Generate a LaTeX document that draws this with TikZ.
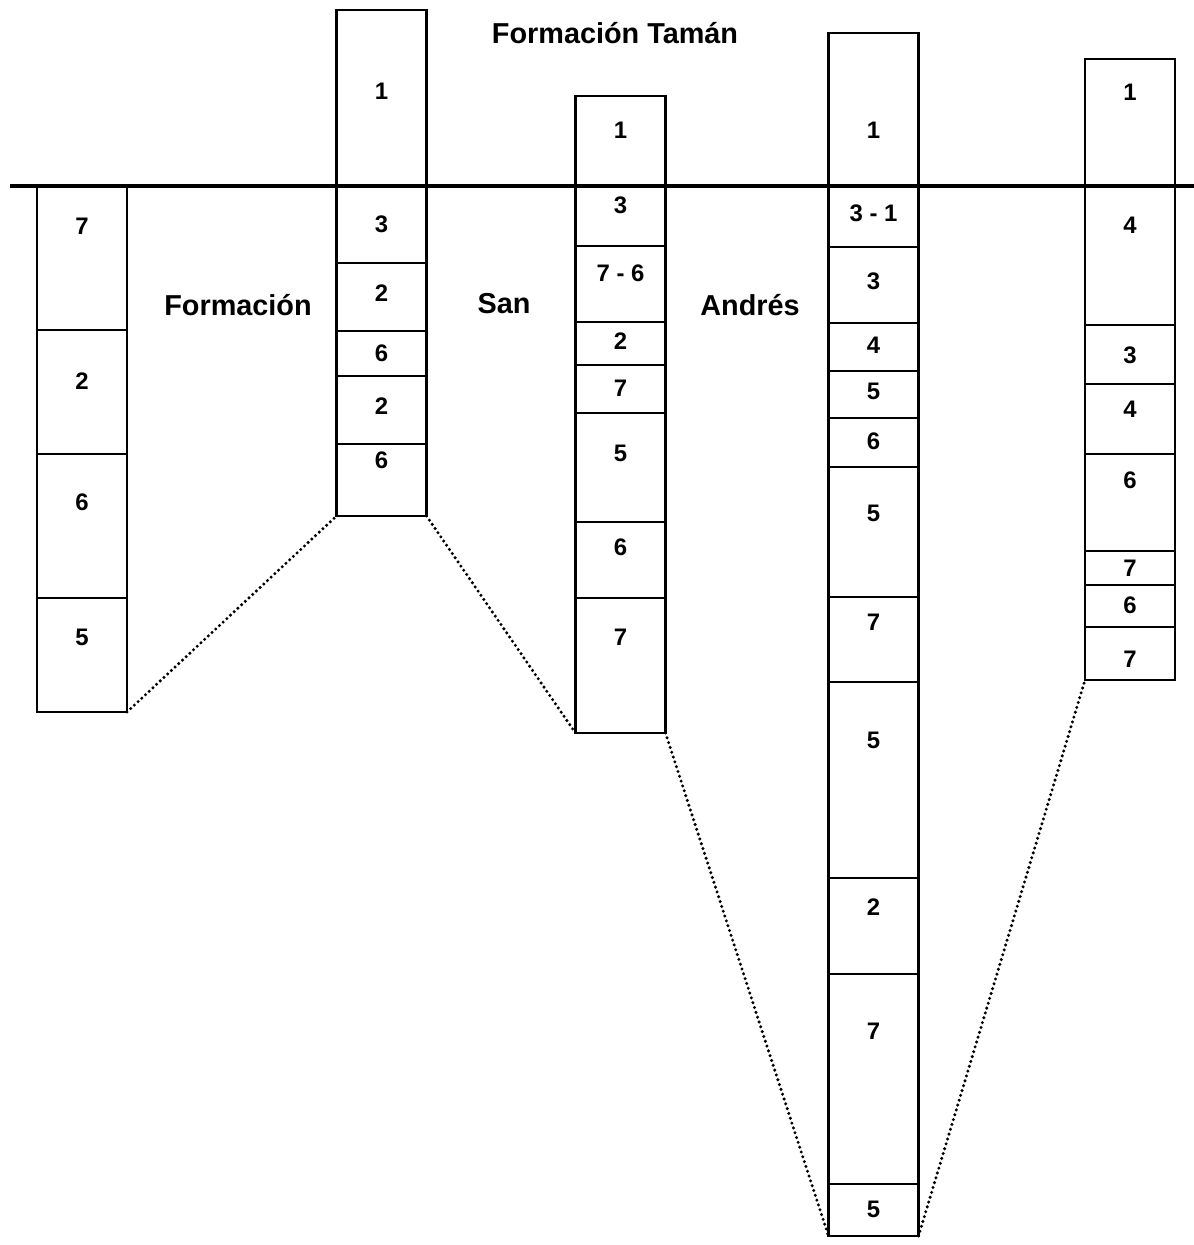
\documentclass[tikz,border=0pt]{standalone}
\usepackage{fontspec}
\setmainfont{Liberation Sans}
\usepackage{tikz}
\usetikzlibrary{positioning}

\begin{document}
\begin{tikzpicture}[x=0.025cm,y=-0.025cm,font=\bfseries]
\tikzstyle{capa}=[draw,line width=1.6pt,inner sep=0pt,outer sep=0pt,minimum width=2.25cm]
\tikzstyle{num}=[font=\fontsize{17}{17}\selectfont\bfseries]
\tikzstyle{rot}=[font=\fontsize{20.5}{20.5}\selectfont\bfseries]
\tikzstyle{corr}=[line width=2.4pt,line cap=round,dash pattern=on 0pt off 3.6pt]
\useasboundingbox (0,0) rectangle (1194,1245);
% columnas
\foreach \t/\b/\y/\n [count=\k] in {186/330/226/7,330/454/381/2,454/598/502/6,598/712/637/5} {\node[capa,minimum height={(\b-\t)*0.025cm}] (p1s\k) at (82,{(\t+\b)/2}) {}; \node[num] (p1n\k) at (82,\y) {\n};}
\foreach \t/\b/\y/\n [count=\k] in {10/186/91/1,186/263/224/3,263/331/293/2,331/376/353/6,376/444/406/2,444/516/460/6} {\node[capa,minimum height={(\b-\t)*0.025cm}] (p2s\k) at (381.5,{(\t+\b)/2}) {}; \node[num] (p2n\k) at (381.5,\y) {\n};}
\foreach \t/\b/\y/\n [count=\k] in {96/186/130/1,186/246/205/3,246/322/273/{7 - 6},322/365/341/2,365/413/388/7,413/522/453/5,522/598/547/6,598/733/637/7} {\node[capa,minimum height={(\b-\t)*0.025cm}] (p3s\k) at (620.5,{(\t+\b)/2}) {}; \node[num] (p3n\k) at (620.5,\y) {\n};}
\foreach \t/\b/\y/\n [count=\k] in {33/186/130/1,186/247/213/{3 - 1},247/323/281/3,323/371/345/4,371/418/391/5,418/467/441/6,467/597/513/5,597/682/622/7,682/878/740/5,878/974/907/2,974/1184/1031/7,1184/1236/1209/5} {\node[capa,minimum height={(\b-\t)*0.025cm}] (p4s\k) at (873.5,{(\t+\b)/2}) {}; \node[num] (p4n\k) at (873.5,\y) {\n};}
\foreach \t/\b/\y/\n [count=\k] in {59/186/92/1,186/325/225/4,325/384/355/3,384/454/409/4,454/551/480/6,551/585/568/7,585/627/605/6,627/680/659/7} {\node[capa,minimum height={(\b-\t)*0.025cm}] (p5s\k) at (1130,{(\t+\b)/2}) {}; \node[num] (p5n\k) at (1130,\y) {\n};}
% contacto
\coordinate (ci) at (10,186); \coordinate (cd) at (1194,186);
\draw[line width=2.6pt] (ci) -- (cd);
\node[rot] (taman) at (615,33) {Formación Tamán};
\node[rot] (form) at (238,305) {Formación};
\node[rot] (san) at (504,304) {San};
\node[rot] (andres) at (750,305) {Andrés};
% correlacion
\draw[corr] (p1s4.south east) -- (p2s6.south west);
\draw[corr] (p2s6.south east) -- (p3s8.south west);
\draw[corr] (p3s8.south east) -- (p4s12.south west);
\draw[corr] (p4s12.south east) -- (p5s8.south west);
\end{tikzpicture}
\end{document}
